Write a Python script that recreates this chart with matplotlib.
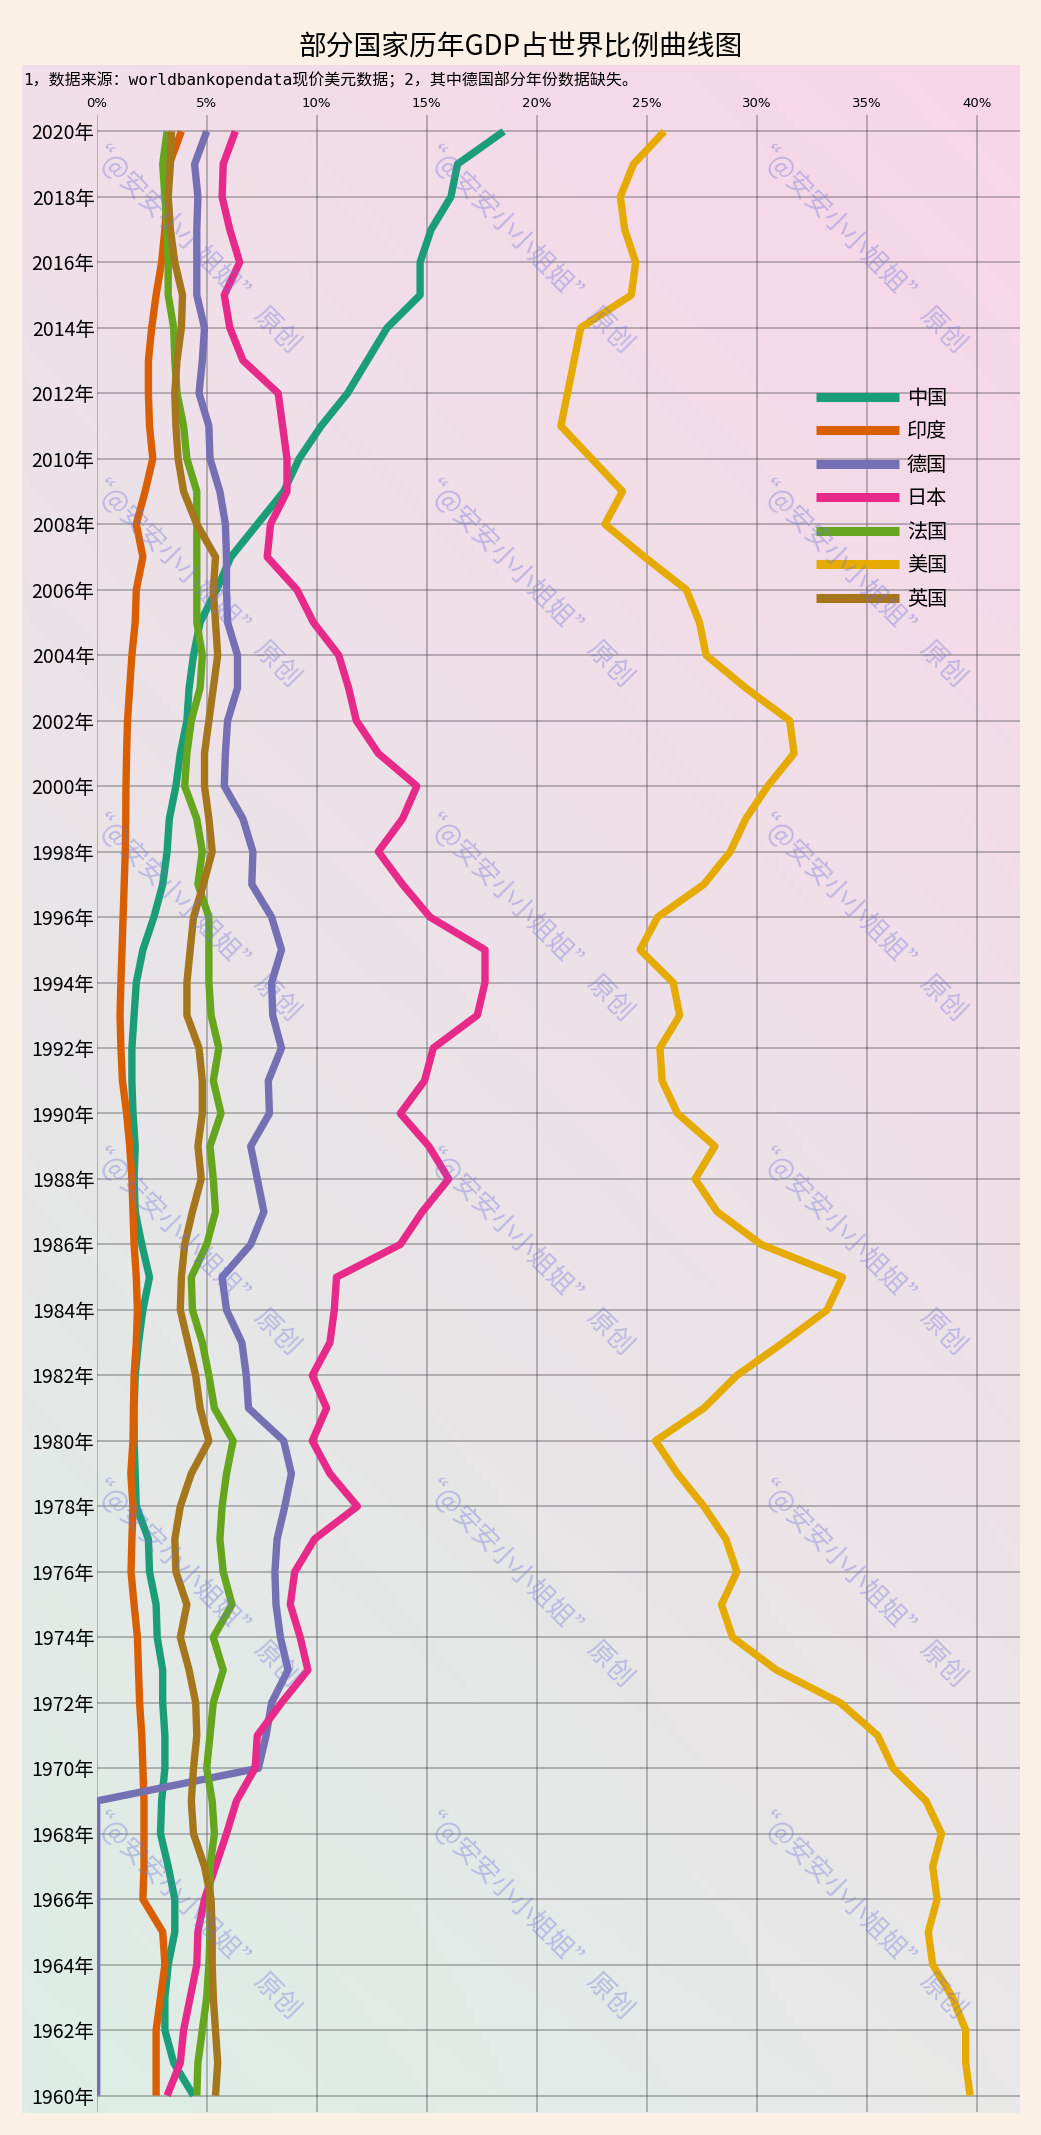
import numpy as np
import matplotlib.pyplot as plt

plt.rcParams['font.family'] = ['Noto Sans CJK SC', 'DejaVu Sans']

W, H = 1041, 2135

years = list(range(1960, 2021))
countries = ['中国', '印度', '德国', '日本', '法国', '美国', '英国']
colors = ['#1b9e77', '#d95f02', '#7570b3', '#e7298a', '#66a61e', '#e6ab02', '#a6761d']

# GDP share of world (%), 1960 -> 2020
china = [4.4, 3.5, 3.1, 3.1, 3.25, 3.55, 3.55, 3.25, 2.9, 2.95,
         3.1, 3.1, 3.0, 3.0, 2.75, 2.7, 2.4, 2.35, 1.8, 1.75,
         1.7, 1.7, 1.75, 1.9, 2.1, 2.4, 2.05, 1.75, 1.7, 1.75,
         1.65, 1.6, 1.6, 1.7, 1.8, 2.1, 2.6, 3.0, 3.2, 3.3,
         3.6, 3.8, 4.1, 4.2, 4.4, 4.7, 5.45, 6.1, 7.3, 8.5,
         9.2, 10.2, 11.4, 12.3, 13.2, 14.7, 14.7, 15.2, 16.1, 16.4,
         18.5]
india = [2.7, 2.7, 2.7, 2.9, 3.1, 3.0, 2.1, 2.15, 2.15, 2.15,
         2.1, 2.05, 1.95, 1.9, 1.85, 1.7, 1.56, 1.6, 1.65, 1.55,
         1.65, 1.67, 1.7, 1.8, 1.85, 1.8, 1.7, 1.65, 1.6, 1.5,
         1.36, 1.17, 1.1, 1.06, 1.1, 1.15, 1.2, 1.25, 1.3, 1.32,
         1.33, 1.36, 1.4, 1.5, 1.6, 1.75, 1.8, 2.1, 1.8, 2.2,
         2.55, 2.4, 2.35, 2.35, 2.5, 2.7, 2.95, 3.1, 3.2, 3.3,
         3.85]
germany = [0, 0, 0, 0, 0, 0, 0, 0, 0, 0,
           7.35, 7.7, 7.95, 8.7, 8.35, 8.15, 8.1, 8.2, 8.55, 8.85,
           8.5, 6.9, 6.8, 6.6, 5.9, 5.7, 7.0, 7.6, 7.3, 7.0,
           7.85, 7.8, 8.4, 8.0, 7.95, 8.4, 7.95, 7.05, 7.1, 6.65,
           5.8, 5.85, 5.95, 6.4, 6.4, 5.95, 5.9, 5.9, 5.85, 5.6,
           5.15, 5.1, 4.65, 4.8, 4.9, 4.55, 4.55, 4.55, 4.6, 4.45,
           5.0]
japan = [3.2, 3.8, 3.95, 4.25, 4.55, 4.6, 4.9, 5.4, 5.9, 6.35,
         7.2, 7.3, 8.4, 9.6, 9.25, 8.8, 9.0, 9.9, 11.85, 10.6,
         9.8, 10.45, 9.8, 10.6, 10.8, 10.9, 13.8, 14.8, 16.0, 15.1,
         13.8, 14.9, 15.3, 17.3, 17.65, 17.65, 15.15, 13.9, 12.8, 13.9,
         14.55, 12.8, 11.8, 11.45, 11.0, 9.85, 9.1, 7.75, 7.9, 8.65,
         8.65, 8.45, 8.25, 6.65, 6.05, 5.8, 6.5, 6.05, 5.7, 5.75,
         6.3]
france = [4.55, 4.6, 4.8, 5.0, 5.1, 5.15, 5.15, 5.15, 5.35, 5.25,
          5.0, 5.15, 5.3, 5.75, 5.3, 6.15, 5.75, 5.6, 5.7, 5.9,
          6.2, 5.35, 5.1, 4.8, 4.35, 4.3, 5.0, 5.4, 5.3, 5.15,
          5.65, 5.3, 5.55, 5.2, 5.1, 5.1, 5.1, 4.6, 4.8, 4.55,
          4.0, 4.1, 4.3, 4.7, 4.8, 4.55, 4.55, 4.55, 4.55, 4.55,
          4.1, 3.95, 3.65, 3.55, 3.5, 3.25, 3.25, 3.2, 3.1, 3.0,
          3.2]
usa = [39.7, 39.5, 39.5, 38.9, 38.0, 37.8, 38.2, 38.0, 38.4, 37.7,
       36.2, 35.5, 33.8, 30.9, 28.9, 28.4, 29.1, 28.6, 27.6, 26.4,
       25.4, 27.6, 29.1, 31.2, 33.2, 33.9, 30.2, 28.2, 27.2, 28.1,
       26.4, 25.7, 25.6, 26.5, 26.2, 24.7, 25.5, 27.6, 28.8, 29.5,
       30.5, 31.7, 31.5, 29.5, 27.7, 27.4, 26.8, 24.9, 23.1, 23.9,
       22.5, 21.1, 21.4, 21.7, 22.0, 24.3, 24.5, 24.0, 23.8, 24.4,
       25.8]
uk = [5.4, 5.5, 5.4, 5.3, 5.25, 5.25, 5.2, 4.9, 4.4, 4.3,
      4.4, 4.55, 4.5, 4.2, 3.8, 4.1, 3.6, 3.55, 3.8, 4.3,
      5.1, 4.7, 4.5, 4.15, 3.8, 3.85, 4.0, 4.35, 4.75, 4.6,
      4.8, 4.8, 4.65, 4.1, 4.1, 4.25, 4.4, 4.85, 5.25, 5.1,
      4.9, 4.9, 5.1, 5.3, 5.5, 5.4, 5.3, 5.4, 4.55, 3.95,
      3.7, 3.6, 3.55, 3.65, 3.85, 3.9, 3.55, 3.35, 3.25, 3.35,
      3.4]
series = [china, india, germany, japan, france, usa, uk]

x_ticks = list(range(0, 45, 5))
y_ticks = list(range(1960, 2021, 2))

title = '部分国家历年GDP占世界比例曲线图'
subtitle = '1，数据来源：worldbankopendata现价美元数据；2，其中德国部分年份数据缺失。'
watermark = '“@安安小小姐姐” 原创'


def fx(px):
    return px / W


def fy(py):
    return 1 - py / H


fig = plt.figure(figsize=(W / 100, H / 100), dpi=100, facecolor='#faf0e6')

# gradient panel behind the grid
bg = fig.add_axes([fx(22), fy(2113), (1020 - 22) / W, (2113 - 65) / H])
bg.axis('off')
v = np.linspace(0, 1, 256)[:, None, None]
u = np.linspace(0, 1, 128)[None, :, None]
tl = np.array([241, 223, 233]) / 255
tr = np.array([248, 214, 233]) / 255
bl = np.array([221, 238, 230]) / 255
br = np.array([233, 232, 232]) / 255
img = (1 - v) * ((1 - u) * tl + u * tr) + v * ((1 - u) * bl + u * br)
bg.imshow(img, aspect='auto', extent=[0, 1, 0, 1], origin='upper')
bg.set_xlim(0, 1)
bg.set_ylim(0, 1)

ax = fig.add_axes([fx(96.7), fy(2112), (1020 - 96.7) / W, (2112 - 115) / H])
ax.patch.set_alpha(0)

for name, vals, c in zip(countries, series, colors):
    ax.plot(vals, years, color=c, lw=5.3, label=name, solid_capstyle='butt')

ax.set_xlim(0, (1020 - 96.7) / 22)
ax.set_ylim(1959.5, 2020.5)
ax.xaxis.tick_top()
ax.set_xticks(x_ticks)
ax.set_xticklabels([f'{t}%' for t in x_ticks], fontsize=9.5,
                   family=['Liberation Sans Narrow', 'DejaVu Sans'])
ax.set_yticks(y_ticks)
ax.set_yticklabels([f'{y}年' for y in y_ticks], fontsize=14)
ax.tick_params(axis='x', length=0, pad=3.5)
ax.tick_params(axis='y', length=0, pad=1.5)
ax.set_axisbelow(True)
ax.grid(True, color='#3a3a3a', alpha=0.35, lw=1.3)
for s in ax.spines.values():
    s.set_visible(False)

leg = ax.legend(loc='upper left', bbox_to_anchor=(fx(816), fy(388)),
                bbox_transform=fig.transFigure, frameon=False, fontsize=14.5,
                handlelength=4.13, handletextpad=0.38, labelspacing=0.62,
                borderpad=0, borderaxespad=0)
for ln in leg.get_lines():
    ln.set_linewidth(6.5)

for wx in [107, 440, 773]:
    for wy in [148, 482, 816, 1150, 1482, 1814]:
        fig.text(fx(wx - 20), fy(wy - 8), watermark, rotation=-45,
                 rotation_mode='anchor', ha='left', va='center',
                 fontsize=19, color='#6f75d6', alpha=0.38, zorder=10)

fig.text(0.5, fy(48), title, ha='center', va='center', fontsize=20)
fig.text(fx(23), fy(80), subtitle, ha='left', va='center', fontsize=11.5,
         family=['DejaVu Sans Mono', 'Noto Sans CJK SC'])

fig.savefig('out.png', dpi=100, facecolor=fig.get_facecolor())
